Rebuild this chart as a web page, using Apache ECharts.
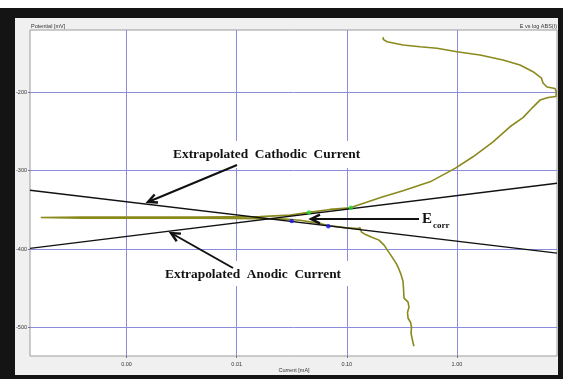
<!DOCTYPE html>
<html><head><meta charset="utf-8">
<script src="https://cdn.jsdelivr.net/npm/echarts@6/dist/echarts.min.js"></script>
<style>
html,body{margin:0;padding:0;}
#wrap{position:relative;width:563px;height:379px;background:#141414;overflow:hidden;}
#topstrip{position:absolute;left:0;top:0;width:563px;height:8px;background:#fff;}
#panel{position:absolute;left:15px;top:18px;width:543px;height:357px;background:#f0f0f0;}
#c{position:absolute;left:0;top:0;width:563px;height:379px;}
</style>
</head><body>
<div id="wrap"><div id="topstrip"></div><div id="panel"></div><div id="c"></div></div>
<script>
// ---- data (current in mA, potential in mV) ----
const xTickLabels = ['0.00', '0.01', '0.10', '1.00'];
const yTickValues = [-500, -400, -300, -200];
const curveCurrent = [0.407,0.395,0.383,0.387,0.379,0.360,0.356,0.367,0.360,0.331,0.328,0.324,0.310,0.295,0.280,0.258,0.237,0.218,0.196,0.169,0.146,0.136,0.132,0.124,0.0964,0.0703,0.0514,0.0376,0.0275,0.0163,0.00465,0.000394,0.000166,0.000394,0.00465,0.0163,0.0305,0.0454,0.0703,0.107,0.140,0.213,0.324,0.570,0.962,1.40,2.13,3.03,3.98,4.91,5.69,6.73,7.94,8.0,7.78,6.58,6.05,5.86,4.91,3.74,2.62,1.62,1.00,0.659,0.462,0.324,0.232,0.214,0.215];
const curvePotential = [-523.6,-515.9,-507.0,-499.4,-493.0,-487.9,-480.3,-473.9,-467.5,-462.4,-452.2,-440.8,-431.8,-424.2,-417.8,-410.2,-402.5,-394.9,-388.5,-384.7,-380.9,-378.3,-372.6,-373.9,-372.6,-370.1,-366.2,-363.1,-361.8,-361.1,-360.5,-360.5,-359.6,-359.2,-359.2,-358.6,-356.7,-353.2,-349.4,-347.4,-341.8,-333.4,-325.5,-314.3,-297.2,-282.4,-263.3,-244.2,-232.5,-219.1,-210.2,-207.0,-205.7,-200.0,-195.5,-193.6,-188.5,-182.2,-174.1,-165.6,-159.2,-152.9,-148.7,-144.3,-142.3,-140.1,-135.9,-132.9,-130.1];
const cathodicFitCurrent = [0.0001327, 8.11];
const cathodicFitPotential = [-325, -405];
const anodicFitCurrent = [0.0001327, 8.11];
const anodicFitPotential = [-399, -316];
const blueCurrent = [0.0316, 0.0679];
const bluePotential = [-364, -370.7];
const greenCurrent = [0.0454, 0.109];
const greenPotential = [-353.2, -347.4];
const xMin = 0.0001327, xMax = 8.11, yMin = -536, yMax = -121;

const zip = (a, b) => a.map((v, i) => [v, b[i]]);

function arrow(x1, y1, x2, y2) {
  const ang = Math.atan2(y2 - y1, x2 - x1);
  const L = 10, spread = 0.45;
  const p1 = [x2 - L * Math.cos(ang - spread), y2 - L * Math.sin(ang - spread)];
  const p2 = [x2 - L * Math.cos(ang + spread), y2 - L * Math.sin(ang + spread)];
  return [
    {type: 'line', shape: {x1, y1, x2, y2}, style: {stroke: '#111', lineWidth: 2}, z: 20},
    {type: 'polyline', shape: {points: [p1, [x2, y2], p2]}, style: {stroke: '#111', lineWidth: 2.4, fill: null}, z: 20}
  ];
}
const serif = '"Liberation Serif","DejaVu Serif",serif';
const smallFont = 5.5;

const chart = echarts.init(document.getElementById('c'), null, {renderer: 'canvas'});
chart.setOption({
  animation: false,
  grid: {left: 30, top: 30, width: 527, height: 326, show: true, backgroundColor: '#fff', borderColor: '#9c9c9c', borderWidth: 1},
  xAxis: {
    type: 'log', logBase: 10, min: xMin, max: xMax,
    axisLine: {show: false},
    axisTick: {show: true, length: 2, lineStyle: {color: '#777'}},
    axisLabel: {show: true, fontSize: smallFont, color: '#333', margin: 5, showMinLabel: false, showMaxLabel: false,
      fontFamily: 'Liberation Sans, Arial, sans-serif',
      formatter: v => { const i = Math.round(Math.log10(v)) + 3; return xTickLabels[i] || ''; }},
    splitLine: {show: true, showMinLine: false, showMaxLine: false, lineStyle: {color: '#8c8cdc', width: 1}}
  },
  yAxis: {
    type: 'value', min: yMin, max: yMax,
    axisLine: {show: false},
    axisTick: {show: true, length: 2, lineStyle: {color: '#777'}},
    axisLabel: {show: true, fontSize: smallFont, color: '#333', margin: 3, showMinLabel: false, showMaxLabel: false,
      fontFamily: 'Liberation Sans, Arial, sans-serif',
      formatter: v => yTickValues.includes(v) ? String(v) : ''},
    splitLine: {show: true, showMinLine: false, showMaxLine: false, lineStyle: {color: '#8c8cdc', width: 1}}
  },
  series: [
    {type: 'line', data: zip(curveCurrent, curvePotential), showSymbol: false, symbol: 'none',
      lineStyle: {color: '#8a8a1c', width: 1.6}, z: 2, clip: true},
    {type: 'line', data: zip(cathodicFitCurrent, cathodicFitPotential), showSymbol: false, symbol: 'none',
      lineStyle: {color: '#111', width: 1.4}, z: 3, clip: true},
    {type: 'line', data: zip(anodicFitCurrent, anodicFitPotential), showSymbol: false, symbol: 'none',
      lineStyle: {color: '#111', width: 1.4}, z: 3, clip: true},
    {type: 'scatter', data: zip(blueCurrent, bluePotential), symbol: 'circle', symbolSize: 4.5,
      itemStyle: {color: '#1818e8'}, z: 4},
    {type: 'scatter', data: zip(greenCurrent, greenPotential), symbol: 'circle', symbolSize: 4.5,
      itemStyle: {color: '#22dd33'}, z: 4}
  ],
  graphic: [
    {type: 'text', left: 31, top: 23, style: {text: 'Potential [mV]', font: smallFont + 'px "Liberation Sans", Arial', fill: '#333'}, z: 5},
    {type: 'text', right: 6, top: 23, style: {text: 'E vs log ABS(I)', font: smallFont + 'px "Liberation Sans", Arial', fill: '#333'}, z: 5},
    {type: 'text', x: 294, y: 370, style: {text: 'Current [mA]', font: smallFont + 'px "Liberation Sans", Arial', fill: '#333', textAlign: 'center', textVerticalAlign: 'middle', align: 'center', verticalAlign: 'middle'}, z: 5},
    {type: 'rect', shape: {x: 165, y: 141, width: 200, height: 27}, style: {fill: '#fff'}, z: 10},
    {type: 'rect', shape: {x: 160, y: 261, width: 190, height: 25}, style: {fill: '#fff'}, z: 10},
    {type: 'text', x: 173, y: 154.5, style: {text: 'Extrapolated  Cathodic  Current', font: 'bold 13.4px ' + serif, fill: '#111', textVerticalAlign: 'middle', verticalAlign: 'middle'}, z: 21},
    {type: 'text', x: 165, y: 275, style: {text: 'Extrapolated  Anodic  Current', font: 'bold 13.4px ' + serif, fill: '#111', textVerticalAlign: 'middle', verticalAlign: 'middle'}, z: 21},
    {type: 'text', x: 422, y: 219, style: {text: 'E', font: 'bold 15px ' + serif, fill: '#111', textVerticalAlign: 'middle', verticalAlign: 'middle'}, z: 21},
    {type: 'text', x: 433, y: 225.5, style: {text: 'corr', font: 'bold 9px ' + serif, fill: '#111', textVerticalAlign: 'middle', verticalAlign: 'middle'}, z: 21},
    ...arrow(237, 165, 148, 202),
    ...arrow(233, 268, 171, 233),
    ...arrow(419, 219, 311, 219)
  ]
});
</script>
</body></html>
